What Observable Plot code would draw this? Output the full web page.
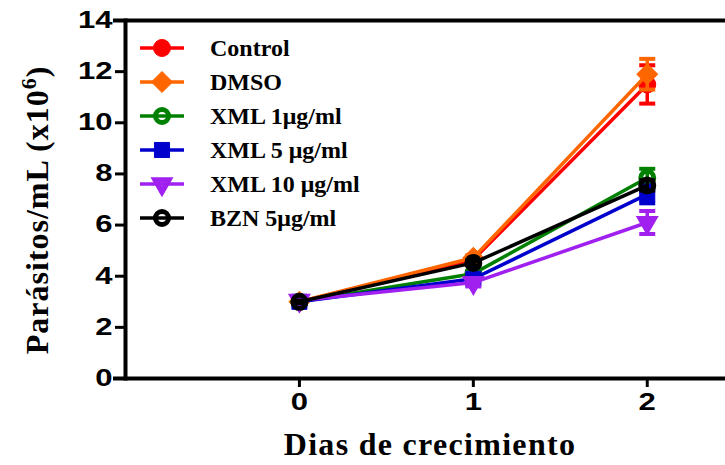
<!DOCTYPE html>
<html>
<head>
<meta charset="utf-8">
<script src="https://cdn.jsdelivr.net/npm/d3@7"></script>
<script src="https://cdn.jsdelivr.net/npm/@observablehq/plot@0.6"></script>
<style>
  html, body { margin: 0; padding: 0; background: #fff; }
  #chart { position: relative; width: 725px; height: 465px; }
</style>
</head>
<body>
<div id="chart"></div>
<script>
// ---- data ----
const days = [0, 1, 2];
const seriesNames = ["Control", "DMSO", "XML 1μg/ml", "XML 5 μg/ml", "XML 10 μg/ml", "BZN 5μg/ml"];
const controlMean = [3.0, 4.65, 11.5];
const controlSD   = [0.05, 0.1, 0.75];
const dmsoMean    = [3.0, 4.72, 11.9];
const dmsoSD      = [0.05, 0.1, 0.6];
const xml1Mean    = [3.0, 4.1, 7.85];
const xml1SD      = [0.05, 0.1, 0.35];
const xml5Mean    = [3.0, 3.9, 7.2];
const xml5SD      = [0.05, 0.1, 0.35];
const xml10Mean   = [3.05, 3.75, 6.1];
const xml10SD     = [0.1, 0.15, 0.45];
const bznMean     = [3.0, 4.52, 7.55];
const bznSD       = [0.05, 0.1, 0.2];
const yTicks = [0, 2, 4, 6, 8, 10, 12, 14];
const xTicks = [0, 1, 2];

// ---- styles ----
const colors = ["#ff0000", "#ff6600", "#008000", "#0000cc", "#a020f0", "#000000"];
const means = [controlMean, dmsoMean, xml1Mean, xml5Mean, xml10Mean, bznMean];
const sds = [controlSD, dmsoSD, xml1SD, xml5SD, xml10SD, bznSD];
const symSpec = [
  {symbol: "circle", filled: true, r: 8.5, rotate: 0, sw: 1},
  {symbol: "diamond2", filled: true, r: 9.5, rotate: 0, sw: 1},
  {symbol: "circle", filled: false, r: 6.5, rotate: 0, sw: 5},
  {symbol: "square", filled: true, r: 8.5, rotate: 0, sw: 1},
  {symbol: "triangle", filled: false, r: 5, rotate: 180, sw: 5.5},
  {symbol: "circle", filled: false, r: 6.5, rotate: 0, sw: 5}
];

const series = seriesNames.map((name, i) => ({
  name, color: colors[i], spec: symSpec[i],
  data: days.map((d, j) => ({day: d, y: means[i][j], sd: sds[i][j]}))
}));

const capSymbol = {draw(ctx) { ctx.moveTo(-8, 0); ctx.lineTo(8, 0); }};

const marks = [
  Plot.ruleY([0, 14], {stroke: "#000", strokeWidth: 4, insetLeft: -12}),
  Plot.frame({anchor: "left", stroke: "#000", strokeWidth: 4}),
  Plot.axisY({ticks: yTicks, tickSize: 10, strokeWidth: 3, tickPadding: 3, fontSize: 23, fontWeight: "bold", label: null, className: "ytick"}),
  Plot.axisX({ticks: xTicks, tickFormat: "d", tickSize: 9, strokeWidth: 3, tickPadding: 6, fontSize: 23, fontWeight: "bold", label: null, className: "xtick"})
];

for (const s of series) {
  marks.push(Plot.line(s.data, {x: "day", y: "y", stroke: s.color, strokeWidth: 3.5}));
  marks.push(Plot.ruleX(s.data, {x: "day", y1: d => d.y - d.sd, y2: d => d.y + d.sd, stroke: s.color, strokeWidth: 3.5}));
  marks.push(Plot.dot(s.data, {x: "day", y: d => d.y - d.sd, symbol: capSymbol, r: 5, fill: "none", stroke: s.color, strokeWidth: 4}));
  marks.push(Plot.dot(s.data, {x: "day", y: d => d.y + d.sd, symbol: capSymbol, r: 5, fill: "none", stroke: s.color, strokeWidth: 4}));
  marks.push(Plot.dot(s.data, {
    x: "day", y: "y", symbol: s.spec.symbol, r: s.spec.r, rotate: s.spec.rotate,
    fill: s.spec.filled ? s.color : "none", stroke: s.color, strokeWidth: s.spec.sw
  }));
}

const chart = Plot.plot({
  width: 725, height: 465,
  marginLeft: 125, marginRight: 0, marginTop: 20, marginBottom: 87,
  x: {domain: [-1, 2.45]},
  y: {domain: [0, 14]},
  style: {fontFamily: "'Liberation Sans', Arial, sans-serif", color: "#000", background: "#fff"},
  marks
});
document.getElementById("chart").appendChild(chart);

const svg = d3.select(chart);
// widen tick labels horizontally like the reference
svg.selectAll(".ytick text, .xtick text").each(function() {
  const t = d3.select(this);
  const tr = t.attr("transform") || "";
  t.attr("transform", tr + " scale(1.35,1)");
});

// ---- titles and legend ----
const serif = "'Liberation Serif', 'Times New Roman', serif";
const yt = svg.append("text")
  .attr("transform", "translate(48,210) rotate(-90)")
  .attr("text-anchor", "middle")
  .attr("font-family", serif).attr("font-weight", "bold").attr("font-size", 32)
  .attr("letter-spacing", 1).attr("fill", "#000");
yt.append("tspan").text("Parásitos/mL (x10");
yt.append("tspan").attr("dy", -12).attr("font-size", 22).text("6");
yt.append("tspan").attr("dy", 12).text(")");

svg.append("text")
  .attr("x", 430).attr("y", 455).attr("text-anchor", "middle")
  .attr("font-family", serif).attr("font-weight", "bold").attr("font-size", 32)
  .attr("letter-spacing", 1.3).attr("fill", "#000")
  .text("Dias de crecimiento");

const leg = svg.append("g");
const symMap = {circle: d3.symbolCircle, diamond2: d3.symbolDiamond2, square: d3.symbolSquare, triangle: d3.symbolTriangle};
series.forEach((s, i) => {
  const cy = 48 + i * 34;
  const g = leg.append("g").attr("transform", `translate(0,${cy})`);
  g.append("line").attr("x1", 140).attr("x2", 184).attr("y1", 0).attr("y2", 0)
    .attr("stroke", s.color).attr("stroke-width", 3.5);
  g.append("path")
    .attr("d", d3.symbol(symMap[s.spec.symbol], Math.PI * s.spec.r * s.spec.r)())
    .attr("transform", `translate(162,0) rotate(${s.spec.rotate})`)
    .attr("fill", s.spec.filled ? s.color : "none")
    .attr("stroke", s.color).attr("stroke-width", s.spec.sw);
  g.append("text").attr("x", 210).attr("y", 0).attr("dy", "0.35em")
    .attr("text-anchor", "start")
    .attr("font-family", serif).attr("font-weight", "bold").attr("font-size", 24).attr("fill", "#000")
    .text(s.name);
});
</script>
</body>
</html>
